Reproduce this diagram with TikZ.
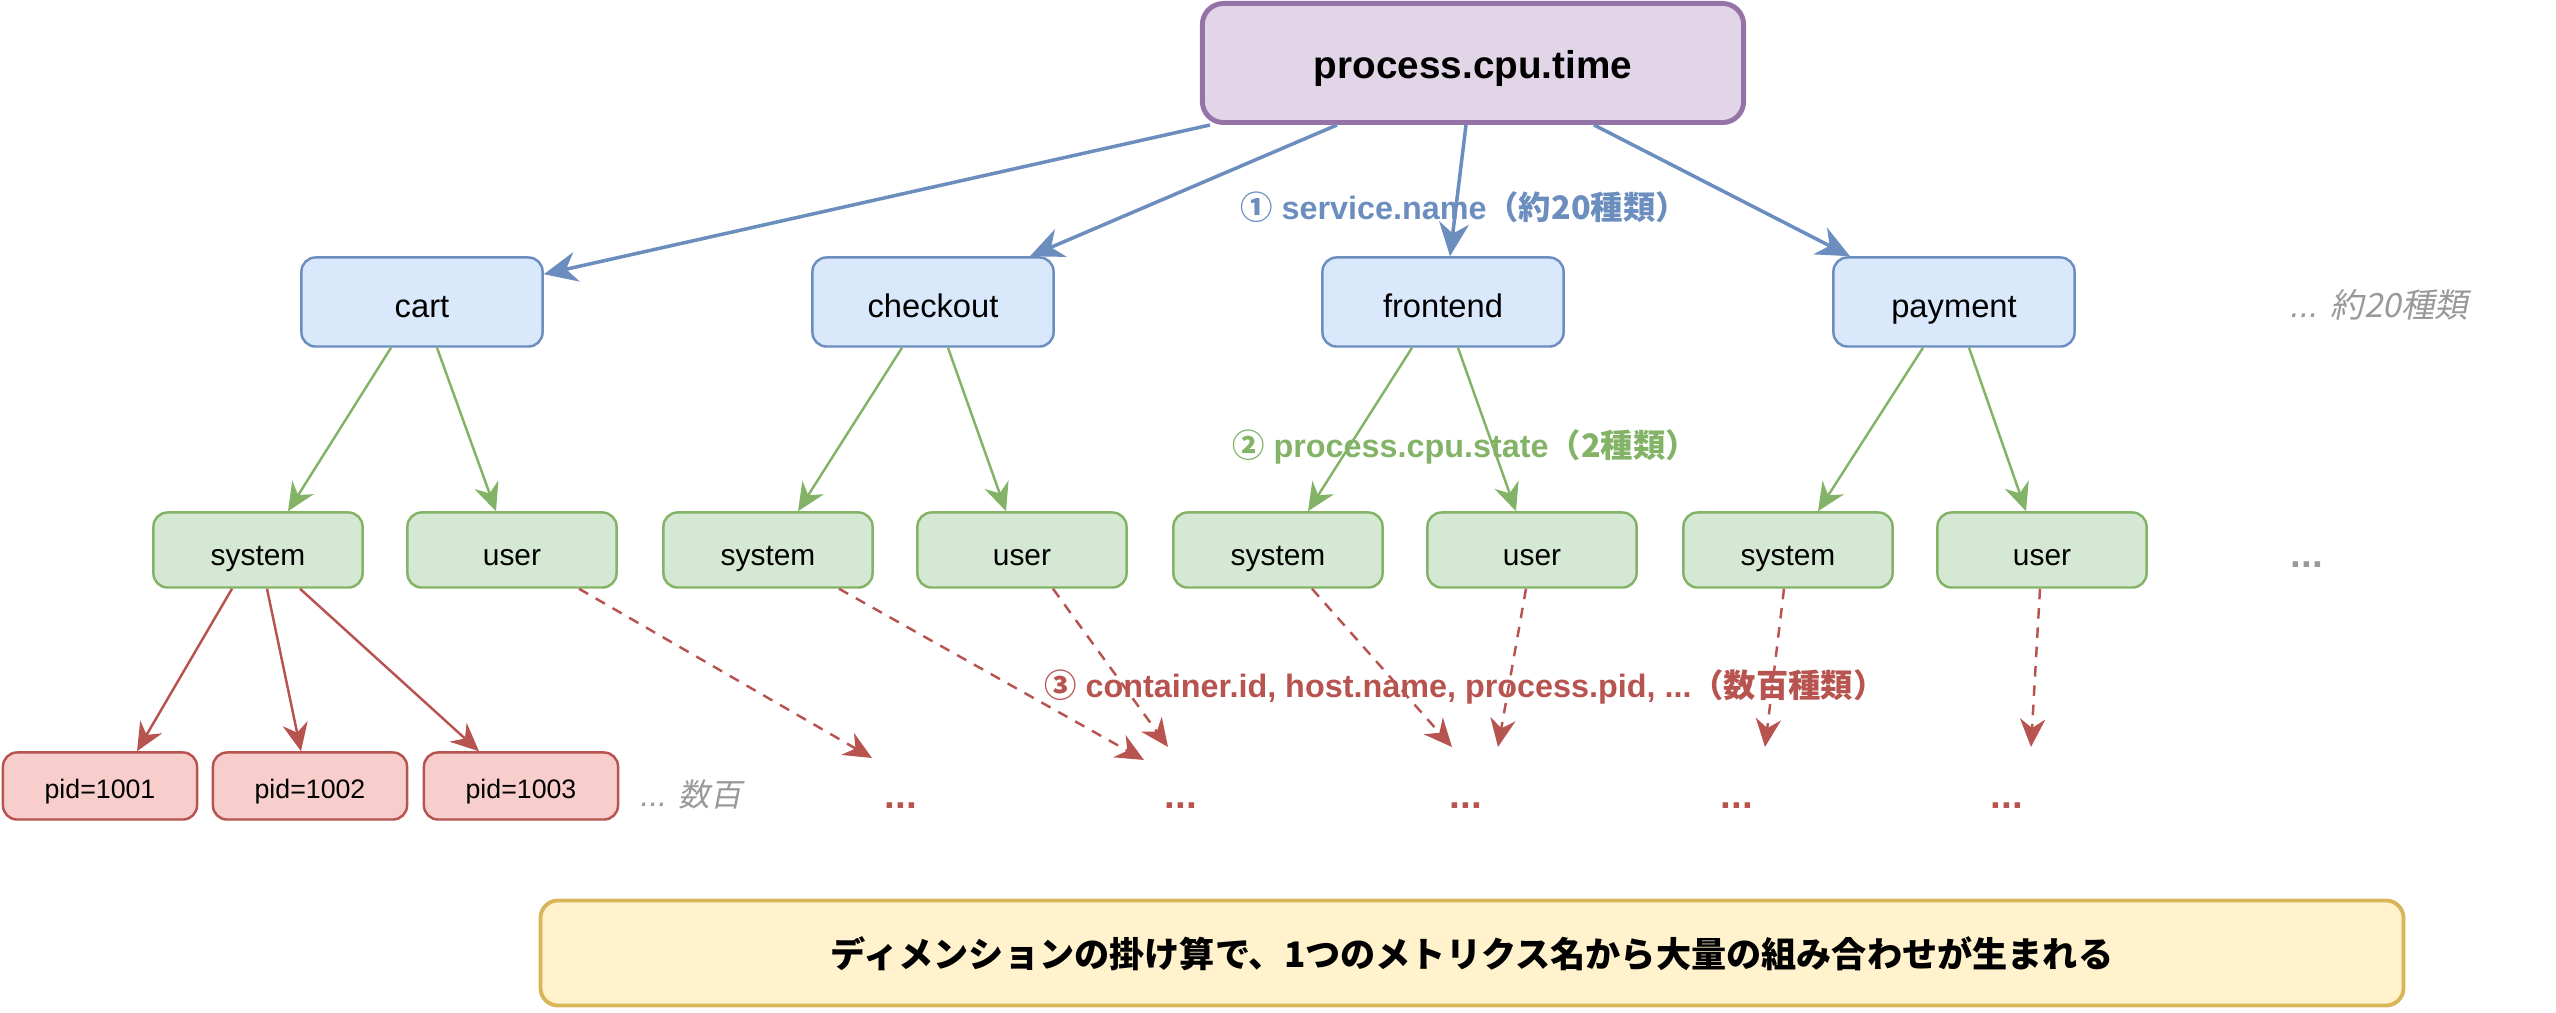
\documentclass[tikz,border=0pt]{standalone}
\usepackage{fontspec}
\setmainfont{Liberation Sans}
\newfontfamily\jp{Noto Sans CJK JP}
\newfontfamily\jpslant{Noto Sans CJK JP}[FakeSlant=0.2]
\usetikzlibrary{arrows.meta,calc}

\definecolor{metricline}{HTML}{9673A6}
\definecolor{metricfill}{HTML}{E1D5E7}
\definecolor{svcline}{HTML}{6C8EBF}
\definecolor{svcfill}{HTML}{DAE8FC}
\definecolor{stateline}{HTML}{82B366}
\definecolor{statefill}{HTML}{D5E8D4}
\definecolor{pidline}{HTML}{B85450}
\definecolor{pidfill}{HTML}{F8CECC}
\definecolor{noteline}{HTML}{D6B656}
\definecolor{notefill}{HTML}{FFF2CC}
\definecolor{hintgray}{HTML}{999999}

\begin{document}
\begin{tikzpicture}[x=0.01cm,y=-0.01cm,
  box/.style={draw,rounded corners=4pt,line width=0.7pt,align=center,inner sep=0pt,
    text height=1.05em,text depth=0.15em},
  metricbox/.style={box,draw=metricline,fill=metricfill,line width=1.4pt,rounded corners=6pt,
    minimum width=5.41cm,minimum height=1.19cm,font=\fontsize{11}{13}\selectfont\bfseries},
  svcbox/.style={box,draw=svcline,fill=svcfill,minimum width=2.41cm,minimum height=0.89cm,
    font=\fontsize{9.3}{11}\selectfont},
  statebox/.style={box,draw=stateline,fill=statefill,minimum width=2.09cm,minimum height=0.75cm,
    font=\fontsize{8.5}{10}\selectfont},
  pidbox/.style={box,draw=pidline,fill=pidfill,minimum width=1.94cm,minimum height=0.67cm,
    text height=0.85em,font=\fontsize{7.6}{9}\selectfont},
  notebox/.style={box,draw=noteline,fill=notefill,line width=1.1pt,rounded corners=5pt,
    text height=1em,minimum width=18.62cm,minimum height=1.05cm,
    font=\fontsize{10}{12}\selectfont\bfseries\jp},
  dimlabel/.style={inner sep=1pt,font=\fontsize{9.2}{11}\selectfont\bfseries},
  hint/.style={inner sep=0pt,hintgray,font=\fontsize{9.5}{11}\selectfont\itshape},
  moredots/.style={inner sep=0pt,font=\fontsize{11}{13}\selectfont\bfseries},
  svcarrow/.style={-{Stealth[length=9.5pt,width=8.5pt,inset=3pt]},svcline,line width=1pt},
  statearrow/.style={-{Stealth[length=8pt,width=7.2pt,inset=2.6pt]},stateline,line width=0.7pt},
  pidarrow/.style={-{Stealth[length=8pt,width=7.2pt,inset=2.6pt]},pidline,line width=0.7pt},
  dimarrow/.style={pidarrow,dash pattern=on 3pt off 2.5pt}]

  \useasboundingbox (0,0) rectangle (2556,1013);

  % Metric
  \node[metricbox] (metric) at (1473,63) {process.cpu.time};

  % service.name
  \node[svcbox] (cart) at (422,302) {cart};
  \node[svcbox] (checkout) at (933,302) {checkout};
  \node[svcbox] (frontend) at (1443,302) {frontend};
  \node[svcbox] (payment) at (1954,302) {payment};
  \node[hint,anchor=west] (svcmore) at (2290,305) {... {\jpslant 約20種類}};

  % process.cpu.state
  \node[statebox] (cartsys) at (258,550) {system};
  \node[statebox] (cartusr) at (512,550) {user};
  \node[statebox] (checksys) at (768,550) {system};
  \node[statebox] (checkusr) at (1022,550) {user};
  \node[statebox] (frontsys) at (1278,550) {system};
  \node[statebox] (frontusr) at (1532,550) {user};
  \node[statebox] (paysys) at (1788,550) {system};
  \node[statebox] (payusr) at (2042,550) {user};
  \node[moredots,hintgray] (statemore) at (2307,565) {...};

  % pid
  \node[pidbox] (pid1) at (100,786) {pid=1001};
  \node[pidbox] (pid2) at (310,786) {pid=1002};
  \node[pidbox] (pid3) at (521,786) {pid=1003};
  \node[hint,anchor=west,font=\fontsize{9}{11}\selectfont\itshape] (pidmore) at (640,795) {... {\jpslant 数百}};

  % Other dimensions
  \node[moredots,pidline] (more1) at (901,806) {...};
  \node[moredots,pidline] (more2) at (1181,806) {...};
  \node[moredots,pidline] (more3) at (1466,806) {...};
  \node[moredots,pidline] (more4) at (1737,806) {...};
  \node[moredots,pidline] (more5) at (2007,806) {...};
  \coordinate (end1) at (872,758);
  \coordinate (end2) at (1144,760);
  \coordinate (end3) at (1168,747);
  \coordinate (end4) at (1452,747);
  \coordinate (end5) at (1498,747);
  \coordinate (end6) at (1765,747);
  \coordinate (end7) at (2031,747);

  % Metric -> services
  \draw[svcarrow] ($(metric.south)+(-263,0)$) -- ($(cart.north east)+(0,18)$);
  \draw[svcarrow] ($(metric.south)+(-136,0)$) -- ($(checkout.north)+(97,0)$);
  \draw[svcarrow] ($(metric.south)+(-7,0)$) -- ($(frontend.north)+(7,0)$);
  \draw[svcarrow] ($(metric.south)+(121,0)$) -- ($(payment.north)+(-104,0)$);

  % Services -> states
  \draw[statearrow] ($(cart.south)+(-31,0)$) -- ($(cartsys.north)+(30,0)$);
  \draw[statearrow] ($(cart.south)+(15,0)$) -- ($(cartusr.north)+(-16,0)$);
  \draw[statearrow] ($(checkout.south)+(-31,0)$) -- ($(checksys.north)+(30,0)$);
  \draw[statearrow] ($(checkout.south)+(15,0)$) -- ($(checkusr.north)+(-16,0)$);
  \draw[statearrow] ($(frontend.south)+(-31,0)$) -- ($(frontsys.north)+(30,0)$);
  \draw[statearrow] ($(frontend.south)+(15,0)$) -- ($(frontusr.north)+(-16,0)$);
  \draw[statearrow] ($(payment.south)+(-31,0)$) -- ($(paysys.north)+(30,0)$);
  \draw[statearrow] ($(payment.south)+(15,0)$) -- ($(payusr.north)+(-16,0)$);

  % States -> pids
  \draw[pidarrow] ($(cartsys.south)+(-26,0)$) -- ($(pid1.north)+(37,0)$);
  \draw[pidarrow] ($(cartsys.south)+(9,0)$) -- ($(pid2.north)+(-9,0)$);
  \draw[pidarrow] ($(cartsys.south)+(42,0)$) -- ($(pid3.north)+(-42,0)$);
  \draw[dimarrow] ($(cartusr.south)+(67,0)$) -- (end1);
  \draw[dimarrow] ($(checksys.south)+(71,0)$) -- (end2);
  \draw[dimarrow] ($(checkusr.south)+(31,0)$) -- (end3);
  \draw[dimarrow] ($(frontsys.south)+(34,0)$) -- (end4);
  \draw[dimarrow] ($(frontusr.south)+(-6,0)$) -- (end5);
  \draw[dimarrow] ($(paysys.south)+(-4,0)$) -- (end6);
  \draw[dimarrow] ($(payusr.south)+(-2,0)$) -- (end7);

  % Dimension labels
  \node[dimlabel,svcline] (svclbl) at (1464,207) {{\jp ①} service.name{\jp （約20種類）}};
  \node[dimlabel,stateline] (statelbl) at (1465,447) {{\jp ②} process.cpu.state{\jp （2種類）}};
  \node[dimlabel,pidline] (pidlbl) at (1465,687)
    {{\jp ③} container.id, host.name, process.pid, ...{\jp （数百種類）}};

  % Summary
  \node[notebox] (note) at (1472,953) {ディメンションの掛け算で、1つのメトリクス名から大量の組み合わせが生まれる};
\end{tikzpicture}
\end{document}
